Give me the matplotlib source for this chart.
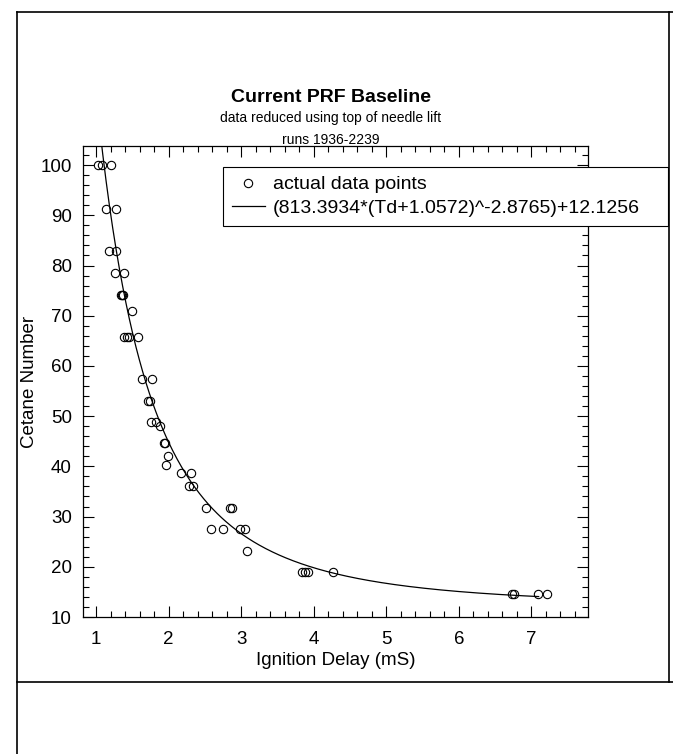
import numpy as np
import matplotlib
matplotlib.use("Agg")
import matplotlib.pyplot as plt
from matplotlib.lines import Line2D
from matplotlib.ticker import MultipleLocator

plt.rcParams['font.family'] = ['Liberation Sans', 'DejaVu Sans']

# ---- data ----
ignition_delay = [1.03, 1.08, 1.21,
                  1.14, 1.28,
                  1.18, 1.28,
                  1.26, 1.38,
                  1.35, 1.36, 1.37,
                  1.50,
                  1.38, 1.43, 1.46, 1.58,
                  1.64, 1.77,
                  1.72, 1.75,
                  1.76, 1.82, 1.88,
                  1.93, 1.95,
                  1.99, 1.97,
                  2.17, 2.31,
                  2.28, 2.34,
                  2.52, 2.84, 2.87,
                  2.59, 2.75, 2.98, 3.05,
                  3.08,
                  3.84, 3.88, 3.92, 4.26,
                  6.73, 6.76, 7.09, 7.21]
cetane_number = [100.0, 100.0, 100.0,
                 91.3, 91.3,
                 82.9, 82.9,
                 78.5, 78.5,
                 74.1, 74.1, 74.1,
                 71.0,
                 65.8, 65.8, 65.8, 65.8,
                 57.4, 57.4,
                 53.1, 53.1,
                 48.8, 48.8, 48.0,
                 44.6, 44.6,
                 42.1, 40.3,
                 38.6, 38.6,
                 36.1, 36.1,
                 31.8, 31.8, 31.8,
                 27.5, 27.5, 27.5, 27.5,
                 23.2,
                 18.9, 18.9, 18.9, 18.9,
                 14.5, 14.5, 14.5, 14.5]

# fitted curve coefficients shown in the legend
fit_a, fit_b, fit_c, fit_d = 813.3934, 1.0572, -2.8765, 12.1256
fit_range = [1.0, 7.1]

x_ticks = [1, 2, 3, 4, 5, 6, 7]
y_ticks = [10, 20, 30, 40, 50, 60, 70, 80, 90, 100]

title = "Current PRF Baseline"
subtitle1 = "data reduced using top of needle lift"
subtitle2 = "runs 1936-2239"
xlabel = "Ignition Delay (mS)"
ylabel = "Cetane Number"
legend_labels = ["actual data points", "(813.3934*(Td+1.0572)^-2.8765)+12.1256"]

W, H = 673, 754
fig = plt.figure(figsize=(W / 100, H / 100), dpi=100)

def fx(px):
    return px / W

def fy(py):
    return 1 - py / H

ax = fig.add_axes([fx(83), fy(617), fx(588) - fx(83), fy(146) - fy(617)])

xc = np.linspace(fit_range[0], fit_range[1], 400)
yc = fit_a * (xc + fit_b) ** fit_c + fit_d

pts, = ax.plot(ignition_delay, cetane_number, linestyle='none', marker='o',
               markersize=6, markerfacecolor='none', markeredgecolor='black',
               markeredgewidth=0.8, label=legend_labels[0])
ln, = ax.plot(xc, yc, color='black', linewidth=0.9, label=legend_labels[1])

ax.set_xlim(0.82, 7.78)
ax.set_ylim(10, 103.8)
ax.set_xticks(x_ticks)
ax.set_yticks(y_ticks)
ax.xaxis.set_minor_locator(MultipleLocator(0.2))
ax.yaxis.set_minor_locator(MultipleLocator(2))
ax.tick_params(which='both', direction='in', top=True, right=True,
               labelsize=13.5, width=0.8)
ax.tick_params(axis='x', which='major', length=8, pad=10)
ax.tick_params(axis='y', which='major', length=8, pad=8)
ax.tick_params(which='minor', length=4)
for s in ax.spines.values():
    s.set_linewidth(0.9)

ax.set_xlabel(xlabel, fontsize=13.5)
ax.xaxis.set_label_coords(0.5, (617 - 652) / 471)
ax.set_ylabel(ylabel, fontsize=13.5, labelpad=2)

fig.text(fx(331), fy(97), title, fontsize=14, fontweight='bold',
         ha='center', va='center')
fig.text(fx(331), fy(118), subtitle1, fontsize=10, ha='center', va='center')
fig.text(fx(331), fy(140), subtitle2, fontsize=10, ha='center', va='center')

leg = ax.legend(handles=[pts, ln], loc='upper left',
                bbox_to_anchor=(fx(223), fy(228), fx(668) - fx(223), fy(167) - fy(228)),
                bbox_transform=fig.transFigure, mode='expand', fontsize=14,
                frameon=True, fancybox=False, framealpha=1, numpoints=1,
                handlelength=1.7, handletextpad=0.4, borderpad=0.45,
                labelspacing=0.3, borderaxespad=0)
leg.get_frame().set_edgecolor('black')
leg.get_frame().set_linewidth(0.8)

# page border lines
border = dict(color='black', linewidth=1.2, transform=fig.transFigure)
fig.add_artist(Line2D([fx(17), fx(673)], [fy(12), fy(12)], **border))
fig.add_artist(Line2D([fx(17), fx(17)], [fy(12), fy(754)], **border))
fig.add_artist(Line2D([fx(669), fx(669)], [fy(12), fy(682)], **border))
fig.add_artist(Line2D([fx(17), fx(673)], [fy(682), fy(682)], **border))

fig.savefig("out.png", dpi=100)
